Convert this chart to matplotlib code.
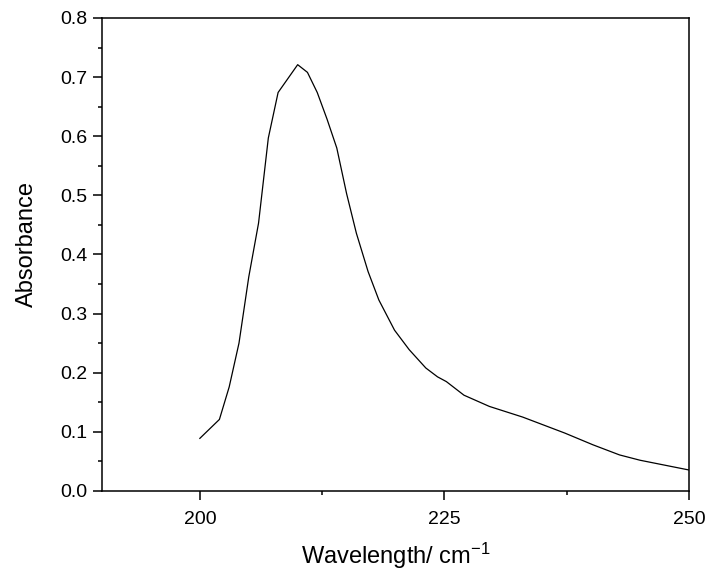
import matplotlib
matplotlib.use("Agg")
import matplotlib.pyplot as plt
from matplotlib.ticker import MultipleLocator

plt.rcParams['font.family'] = ['Liberation Sans', 'DejaVu Sans']
plt.rcParams['mathtext.default'] = 'regular'

# spectrum
wavelength = [200, 202, 203, 204, 205, 206, 207, 208, 210, 211, 212, 213, 214, 215,
              216, 217.2, 218.3, 219.9, 221.4, 223.1, 224.3, 225.2, 227.0, 229.6,
              233.0, 237.3, 240.2, 242.9, 245.0, 250]
absorbance = [0.089, 0.121, 0.176, 0.250, 0.362, 0.453, 0.597, 0.674, 0.721, 0.708,
              0.674, 0.629, 0.580, 0.503, 0.436, 0.371, 0.323, 0.272, 0.239, 0.208,
              0.193, 0.185, 0.162, 0.143, 0.125, 0.098, 0.078, 0.061, 0.052, 0.0355]

fig = plt.figure(figsize=(7.11, 5.76), dpi=100)
ax = fig.add_axes([0.1435, 0.1476, 0.8255, 0.8212])

ax.plot(wavelength, absorbance, color='black', linewidth=0.9)

ax.set_xlim(190, 250)
ax.set_ylim(0, 0.8)
ax.xaxis.set_major_locator(MultipleLocator(25))
ax.xaxis.set_minor_locator(MultipleLocator(12.5))
ax.yaxis.set_major_locator(MultipleLocator(0.1))
ax.yaxis.set_minor_locator(MultipleLocator(0.05))
ax.yaxis.set_major_formatter(plt.FormatStrFormatter('%.1f'))

ax.tick_params(which='both', direction='out', top=False, right=False,
               labelsize=14, width=1.1)
ax.tick_params(which='major', length=6.5)
ax.tick_params(which='minor', length=3.2)
ax.tick_params(axis='x', which='major', pad=8)
ax.tick_params(axis='y', which='major', pad=4.3)
for s in ax.spines.values():
    s.set_linewidth(1.1)

ax.set_xlabel('Wavelength/ cm$^{-1}$', fontsize=17)
ax.set_ylabel('Absorbance', fontsize=17)
ax.xaxis.label.set_va('baseline')
ax.yaxis.label.set_va('baseline')
ax.xaxis.set_label_coords(0.5, -0.154)
ax.yaxis.set_label_coords(-0.117, 0.522)

fig.savefig('out.png', dpi=100)
